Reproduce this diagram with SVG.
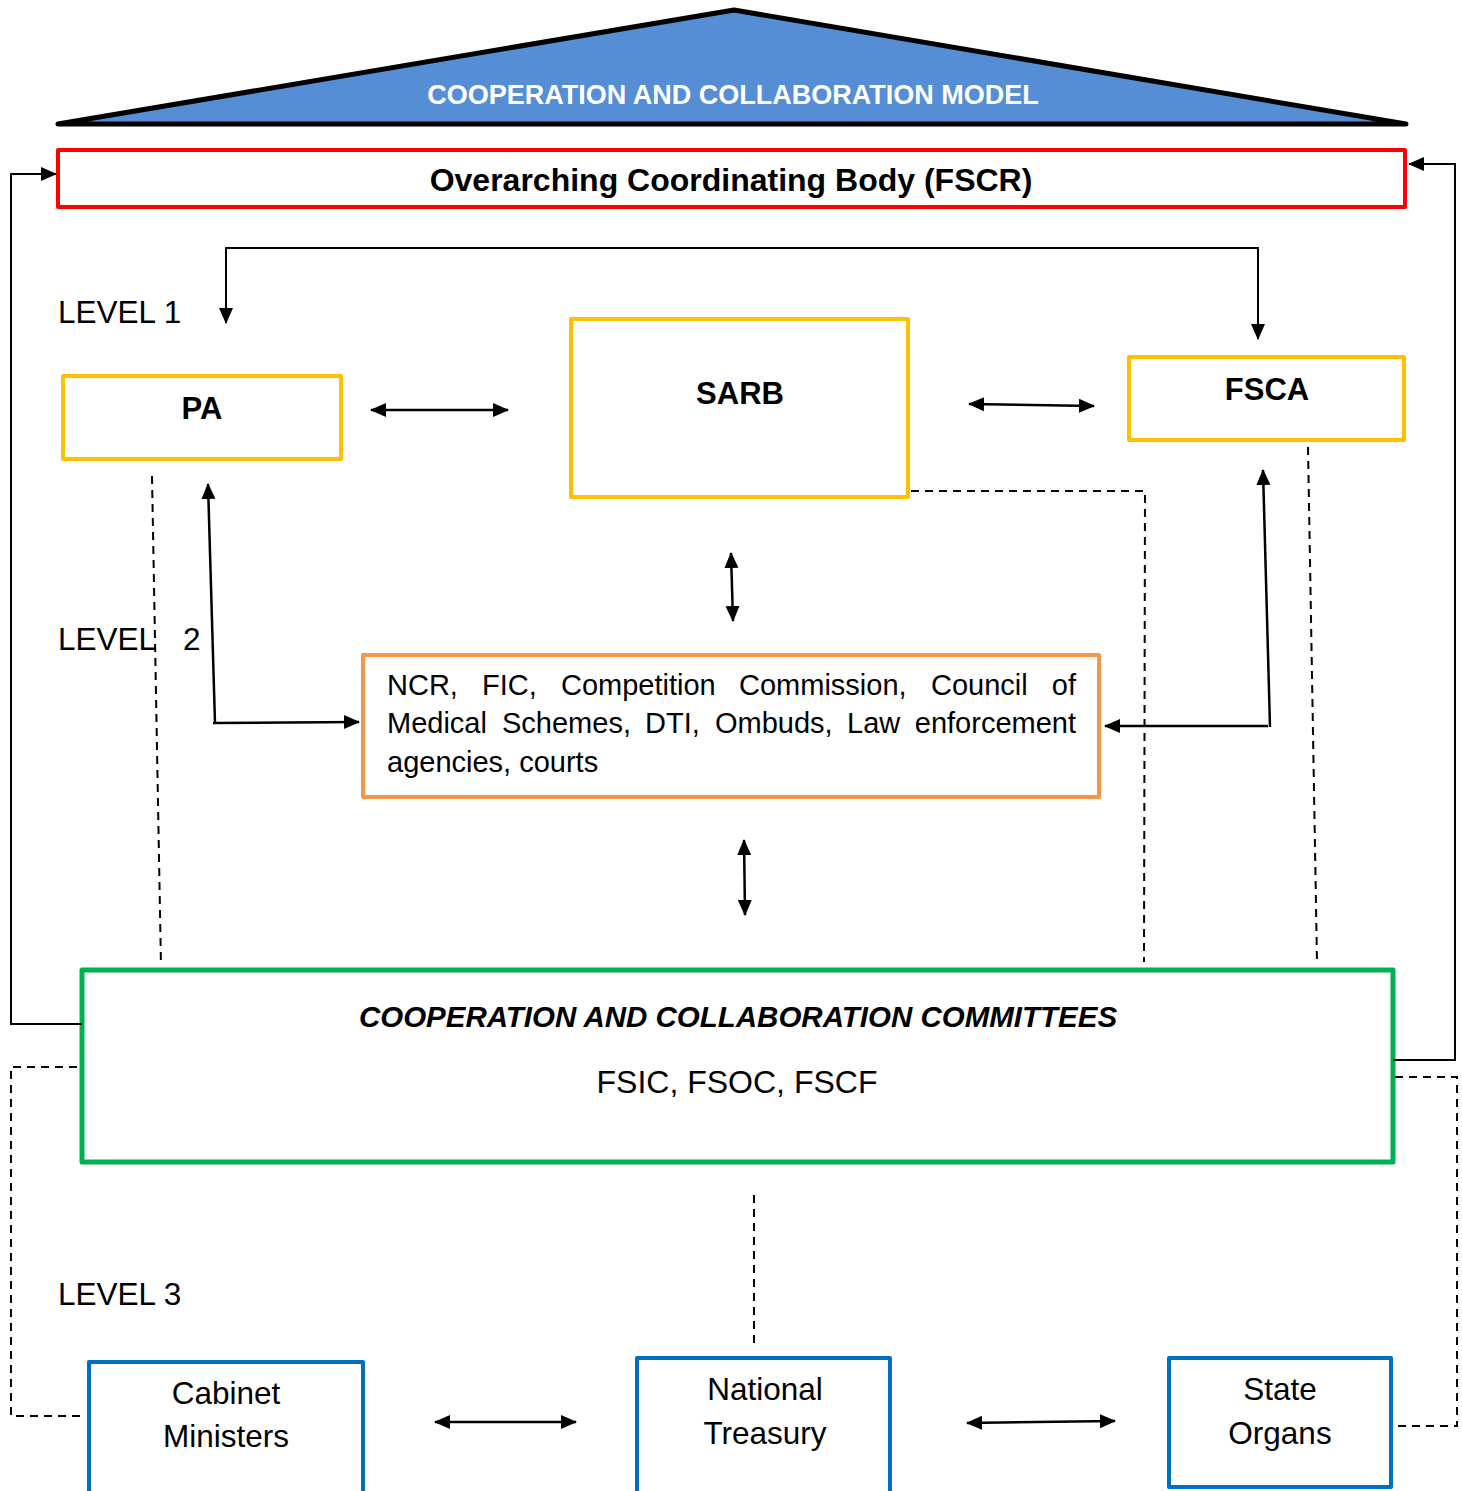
<svg xmlns="http://www.w3.org/2000/svg" width="1462" height="1491" viewBox="0 0 1462 1491">
<style>
  .t { font-family: "Liberation Sans", Arial, sans-serif; fill: #000; }
  .b { font-weight: bold; }
  .c { text-anchor: middle; }
  .box { fill: #fff; stroke-linejoin: round; }
  .yl { stroke: #FFC000; stroke-width: 4; }
  .bl { stroke: #0070C0; stroke-width: 4; }
  .ln { fill: none; stroke: #000; stroke-width: 2.5; }
  .thin { fill: none; stroke: #000; stroke-width: 2; }
  .dash { fill: none; stroke: #000; stroke-width: 2; stroke-dasharray: 8 6; }
</style>
<defs>
  <marker id="ah" markerUnits="userSpaceOnUse" markerWidth="16" markerHeight="16" refX="15" refY="8" orient="auto-start-reverse" viewBox="0 0 16 16">
    <path d="M0,1 L16,8 L0,15 Z" fill="#000"/>
  </marker>
</defs>
<rect width="1462" height="1491" fill="#fff"/>

<g id="model">
  <polygon points="734,10 58,124 1406,124" fill="#558ED5" stroke="#000" stroke-width="5" stroke-linejoin="round"/>
  <text class="t b c" x="733" y="104" font-size="27" style="fill:#fff">COOPERATION AND COLLABORATION MODEL</text>
</g>

<g id="fscr">
  <rect class="box" x="58" y="150" width="1347" height="57" stroke="#FF0000" stroke-width="4"/>
  <text class="t b c" x="731" y="191" font-size="32">Overarching Coordinating Body (FSCR)</text>
</g>

<g id="levels">
  <text class="t" x="58" y="323" font-size="31.5">LEVEL 1</text>
  <text class="t" x="58" y="650" font-size="31.5">LEVEL</text>
  <text class="t" x="183" y="650" font-size="31.5">2</text>
  <text class="t" x="58" y="1305" font-size="31.5">LEVEL 3</text>
</g>

<g id="pa">
  <rect class="box yl" x="63" y="376" width="278" height="83"/>
  <text class="t b c" x="202" y="419" font-size="31">PA</text>
</g>

<g id="sarb">
  <rect class="box yl" x="571" y="319" width="337" height="178"/>
  <text class="t b c" x="740" y="404" font-size="31">SARB</text>
</g>

<g id="fsca">
  <rect class="box yl" x="1129" y="357" width="275" height="83"/>
  <text class="t b c" x="1267" y="400" font-size="31">FSCA</text>
</g>

<g id="agencies">
  <rect class="box" x="363" y="655" width="736" height="142" stroke="#F79646" stroke-width="4"/>
  <text class="t" y="695" font-size="29"><tspan x="387">NCR,</tspan><tspan x="482">FIC,</tspan><tspan x="561">Competition</tspan><tspan x="739">Commission,</tspan><tspan x="931">Council</tspan><tspan x="1076" text-anchor="end">of</tspan></text>
  <text class="t" y="733" font-size="29"><tspan x="387">Medical</tspan><tspan x="502">Schemes,</tspan><tspan x="645">DTI,</tspan><tspan x="715">Ombuds,</tspan><tspan x="847">Law</tspan><tspan x="1076" text-anchor="end">enforcement</tspan></text>
  <text class="t" x="387" y="772" font-size="29">agencies, courts</text>
</g>

<g id="committees">
  <rect class="box" x="82" y="970" width="1311" height="192" stroke="#00B050" stroke-width="5"/>
  <text class="t b c" x="738" y="1027" font-size="29.5" font-style="italic">COOPERATION AND COLLABORATION COMMITTEES</text>
  <text class="t c" x="737" y="1093" font-size="32">FSIC, FSOC, FSCF</text>
</g>

<g id="cabinet">
  <rect class="box bl" x="89" y="1362" width="274" height="140"/>
  <text class="t c" x="226" y="1404" font-size="31.5">Cabinet</text>
  <text class="t c" x="226" y="1447" font-size="31.5">Ministers</text>
</g>

<g id="treasury">
  <rect class="box bl" x="637" y="1358" width="253" height="144"/>
  <text class="t c" x="765" y="1400" font-size="31.5">National</text>
  <text class="t c" x="765" y="1444" font-size="31.5">Treasury</text>
</g>

<g id="state">
  <rect class="box bl" x="1169" y="1358" width="222" height="129"/>
  <text class="t c" x="1280" y="1400" font-size="31.5">State</text>
  <text class="t c" x="1280" y="1444" font-size="31.5">Organs</text>
</g>

<g id="connectors">
  <polyline class="thin" points="82,1024 11,1024 11,174 56,174" marker-end="url(#ah)"/>
  <polyline class="thin" points="1393,1060 1455,1060 1455,164 1409,164" marker-end="url(#ah)"/>
  <polyline class="thin" points="226,323 226,248 1258,248 1258,339" marker-start="url(#ah)" marker-end="url(#ah)"/>
  <line class="ln" x1="371" y1="410" x2="508" y2="410" marker-start="url(#ah)" marker-end="url(#ah)"/>
  <line class="ln" x1="969" y1="404" x2="1094" y2="406" marker-start="url(#ah)" marker-end="url(#ah)"/>
  <line class="ln" x1="731" y1="553" x2="733" y2="621" marker-start="url(#ah)" marker-end="url(#ah)"/>
  <line class="ln" x1="744" y1="840" x2="745" y2="915" marker-start="url(#ah)" marker-end="url(#ah)"/>
  <polyline class="ln" points="208,484 215,723" marker-start="url(#ah)"/>
  <line class="ln" x1="213" y1="723" x2="359" y2="722" marker-end="url(#ah)"/>
  <polyline class="ln" points="1263,470 1270,727" marker-start="url(#ah)"/>
  <line class="ln" x1="1268" y1="726" x2="1105" y2="726" marker-end="url(#ah)"/>
  <line class="dash" x1="152" y1="476" x2="161" y2="966"/>
  <polyline class="dash" points="911,491 1145,491 1144,962"/>
  <line class="dash" x1="1308" y1="447" x2="1317" y2="962"/>
  <polyline class="dash" points="77,1067 11,1067 11,1416 85,1416"/>
  <polyline class="dash" points="1395,1077 1457,1077 1457,1426 1397,1426"/>
  <line class="dash" x1="754" y1="1195" x2="754" y2="1346"/>
  <line class="ln" x1="435" y1="1422" x2="576" y2="1422" marker-start="url(#ah)" marker-end="url(#ah)"/>
  <line class="ln" x1="967" y1="1423" x2="1115" y2="1421" marker-start="url(#ah)" marker-end="url(#ah)"/>
</g>
</svg>
